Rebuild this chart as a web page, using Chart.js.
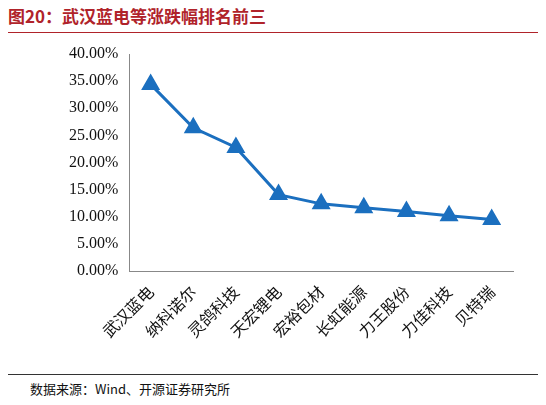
<!DOCTYPE html>
<html>
<head>
<meta charset="utf-8">
<script src="https://cdn.jsdelivr.net/npm/chart.js@4/dist/chart.umd.min.js"></script>
<style>
  body { margin: 0; width: 546px; height: 405px; background: #fff; position: relative; font-family: "Noto Sans CJK SC", sans-serif; }
  #title { position: absolute; left: 8px; top: 3px; font-size: 17px; font-weight: bold; color: #b0232a; }
  #topline { position: absolute; left: 8px; right: 8px; top: 32px; border-top: 1.5px solid #b0232a; }
  #box { position: absolute; left: 8px; top: 40px; width: 530px; height: 330px; }
  #botline { position: absolute; left: 8px; right: 8px; top: 374px; border-top: 1px solid #333; }
  #source { position: absolute; left: 30px; top: 379px; font-size: 13px; color: #111; }
</style>
</head>
<body>
<div id="title">图20：武汉蓝电等涨跌幅排名前三</div>
<div id="topline"></div>
<div id="box"><canvas id="c"></canvas></div>
<div id="botline"></div>
<div id="source">数据来源：Wind、开源证券研究所</div>
<script>
// Data for chart
const categories = ['武汉蓝电', '纳科诺尔', '灵鸽科技', '天宏锂电', '宏裕包材', '长虹能源', '力王股份', '力佳科技', '贝特瑞'];
const changePct = [34.4, 26.4, 22.8, 14.1, 12.4, 11.7, 11.0, 10.2, 9.5];

document.addEventListener('DOMContentLoaded', () => {
    const ctx = document.getElementById('c').getContext('2d');
    new Chart(ctx, {
        type: 'line',
        data: {
            labels: categories,
            datasets: [{
                data: changePct,
                borderColor: '#1b6fbf',
                backgroundColor: '#1b6fbf',
                borderWidth: 3,
                pointStyle: 'triangle',
                pointRadius: 8,
                tension: 0
            }]
        },
        options: {
            responsive: true,
            maintainAspectRatio: false,
            animation: false,
            layout: { padding: { left: 58, right: 25, top: 14, bottom: 26 } },
            plugins: { legend: { display: false }, tooltip: { enabled: false } },
            scales: {
                x: {
                    offset: true,
                    grid: { display: false },
                    border: { color: '#888' },
                    ticks: {
                        color: '#111', maxRotation: 45, minRotation: 45,
                        font: { family: 'Noto Sans CJK SC', size: 16 }
                    }
                },
                y: {
                    min: 0, max: 40,
                    grid: { display: false },
                    border: { color: '#888' },
                    ticks: {
                        stepSize: 5, color: '#111',
                        font: { family: 'Liberation Serif', size: 16 },
                        callback: v => v.toFixed(2) + '%'
                    }
                }
            }
        }
    });
});
</script>
</body>
</html>
